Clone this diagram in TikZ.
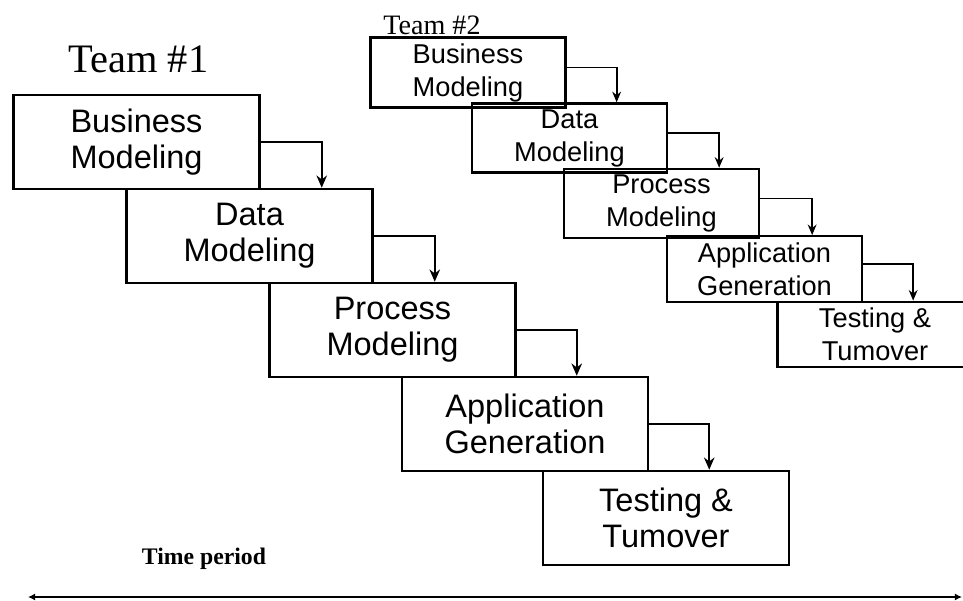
\documentclass[tikz,border=0pt]{standalone}
\usepackage{fontspec}
\setmainfont{Liberation Serif}
\newfontfamily\stagefont{Liberation Sans}
\usetikzlibrary{arrows.meta,calc}

\tikzstyle{stage} = [rectangle, minimum width=4.92cm, minimum height=1.88cm, align=center, draw=black, line width=1.4pt, font=\stagefont\fontsize{18.5}{20.5}\selectfont]
\tikzstyle{substage} = [rectangle, minimum width=3.9cm, minimum height=1.31cm, align=center, draw=black, line width=1.3pt, font=\stagefont\fontsize{15.5}{18.8}\selectfont]
\tikzstyle{arrow} = [line width=1.1pt,->,>={Stealth[length=7pt,width=6pt]}]
\tikzstyle{subarrow} = [line width=1.1pt,->,>={Stealth[length=6pt,width=5pt]}]
\tikzstyle{timeline} = [line width=1.1pt,<->,>={Latex[length=4pt,width=4pt]}]

\begin{document}
\begin{tikzpicture}[node distance=1.88cm]
		\useasboundingbox (0,0) rectangle (19.26,12.02);

		% team 1
		\node (team1) [anchor=base, font=\fontsize{23}{27}\selectfont] at (2.77,10.56) {Team \#1};
		\node (bm1) [stage] at (2.73,9.18) {Business\\Modeling};
		\node (dm1) [stage, below of=bm1, xshift=2.26cm] {Data\\Modeling};
		\node (pm1) [stage, below of=dm1, xshift=2.86cm] {Process\\Modeling};
		\node (ag1) [stage, below of=pm1, xshift=2.65cm] {Application\\Generation};
		\node (tt1) [stage, below of=ag1, xshift=2.82cm] {Testing \&\\Tumover};

		\draw [arrow] (bm1.east) -| ($(bm1.east |- dm1.north)+(1.22,0)$);
		\draw [arrow] (dm1.east) -| ($(dm1.east |- pm1.north)+(1.22,0)$);
		\draw [arrow] (pm1.east) -| ($(pm1.east |- ag1.north)+(1.2,0)$);
		\draw [arrow] (ag1.east) -| ($(ag1.east |- tt1.north)+(1.2,0)$);

		% team 2
		\begin{scope}[node distance=1.31cm]
			\node (team2) [anchor=base, font=\fontsize{16}{18}\selectfont] at (8.64,11.32) {Team \#2};
			\node (bm2) [substage] at (9.36,10.57) {Business\\Modeling};
			\node (dm2) [substage, below of=bm2, xshift=2.03cm] {Data\\Modeling};
			\node (pm2) [substage, below of=dm2, xshift=1.84cm] {Process\\Modeling};
			\node (ag2) [substage, below of=pm2, xshift=2.06cm] {Application\\Generation};
			\node (tt2) [substage, below of=ag2, xshift=2.21cm] {Testing \&\\Tumover};
		\end{scope}

		\draw [subarrow] ([yshift=0.1cm]bm2.east) -| ($(bm2.east |- dm2.north)+(1.0,0)$);
		\draw [subarrow] ([yshift=0.1cm]dm2.east) -| ($(dm2.east |- pm2.north)+(1.02,0)$);
		\draw [subarrow] ([yshift=0.1cm]pm2.east) -| ($(pm2.east |- ag2.north)+(1.04,0)$);
		\draw [subarrow] ([yshift=0.1cm]ag2.east) -| ($(ag2.east |- tt2.north)+(1.0,0)$);

		% time axis
		\node (period) [anchor=base, font=\bfseries\fontsize{13.5}{16}\selectfont] at (4.08,0.72) {Time period};
		\coordinate (t0) at (0.56,0.08);
		\coordinate (t1) at (19.24,0.08);
		\draw [timeline] (t0) -- (t1);
	\end{tikzpicture}
\end{document}
